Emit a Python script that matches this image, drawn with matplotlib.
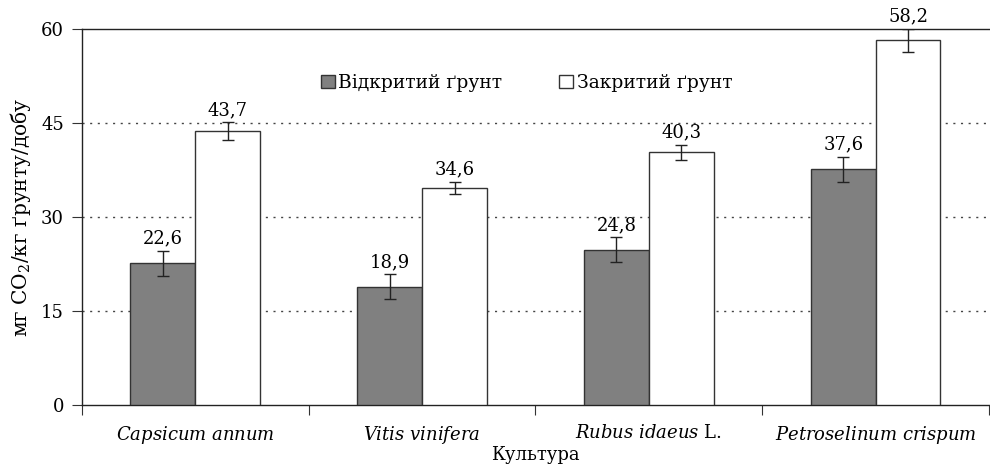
import matplotlib
matplotlib.use("Agg")
import matplotlib.pyplot as plt
import numpy as np

plt.rcParams['font.family'] = ['DejaVu Serif']
plt.rcParams['mathtext.fontset'] = 'custom'
plt.rcParams['mathtext.rm'] = 'DejaVu Serif'
plt.rcParams['mathtext.it'] = 'DejaVu Serif:italic'

categories = [r"$\it{Capsicum\ annum}$", r"$\it{Vitis\ vinifera}$",
              r"$\it{Rubus\ idaeus}$ L.", r"$\it{Petroselinum\ crispum}$"]
open_vals = [22.6, 18.9, 24.8, 37.6]
closed_vals = [43.7, 34.6, 40.3, 58.2]
open_err = [2.0, 2.0, 2.0, 2.0]
closed_err = [1.4, 1.0, 1.2, 1.8]
series_names = ["Відкритий ґрунт", "Закритий ґрунт"]
yticks = [0, 15, 30, 45, 60]

FS = 13

fig = plt.figure(figsize=(9.9, 4.73), dpi=100)
ax = fig.add_axes([0.0828, 0.1438, 0.9162, 0.795])

x = np.arange(len(categories))
w = 0.286
edge = '#333333'
ax.bar(x - w/2, open_vals, w, color='#808080', edgecolor=edge, linewidth=1.0,
       yerr=open_err, error_kw=dict(ecolor='#222222', elinewidth=1.0, capsize=4, capthick=1.0),
       label=series_names[0], zorder=3)
ax.bar(x + w/2, closed_vals, w, color='white', edgecolor=edge, linewidth=1.0,
       yerr=closed_err, error_kw=dict(ecolor='#222222', elinewidth=1.0, capsize=4, capthick=1.0),
       label=series_names[1], zorder=3)

for xi, v, e in zip(x - w/2, open_vals, open_err):
    ax.text(xi, v + e + 0.5, f"{v:.1f}".replace('.', ','), ha='center', va='bottom', fontsize=FS)
for xi, v, e in zip(x + w/2, closed_vals, closed_err):
    ax.text(xi, v + e + 0.5, f"{v:.1f}".replace('.', ','), ha='center', va='bottom', fontsize=FS)

ax.set_ylim(0, 60)
ax.set_xlim(-0.5, len(categories) - 0.5)
ax.set_yticks(yticks)
ax.set_yticklabels([str(t) for t in yticks], fontsize=FS)
for t in yticks[1:-1]:
    ax.axhline(t, color='#444444', linestyle=(0, (1.5, 4)), linewidth=1.0, zorder=1)

ax.set_xticks(np.arange(len(categories) + 1) - 0.5)
ax.set_xticklabels([])
ax.set_xticks(x, minor=True)
ax.set_xticklabels(categories, minor=True, fontsize=FS)
ax.tick_params(axis='x', which='minor', length=0, pad=14)
ax.tick_params(axis='x', which='major', length=7, direction='out', color='#333333')
ax.tick_params(axis='y', length=7, direction='out', color='#333333', pad=6)

ax.spines['right'].set_visible(False)
for s in ['left', 'bottom', 'top']:
    ax.spines[s].set_color('#222222')
    ax.spines[s].set_linewidth(1.0)

ax.set_xlabel("Культура", fontsize=FS, labelpad=0)
ax.set_ylabel("мг CO$_2$/кг ґрунту/добу", fontsize=14.5, labelpad=6)

ax.legend(loc='upper center', bbox_to_anchor=(0.49, 0.925), ncol=2, frameon=False,
          fontsize=FS + 0.5, handlelength=0.75, handleheight=0.75, handletextpad=0.2,
          columnspacing=3.0)

fig.savefig("out.png", dpi=100)
